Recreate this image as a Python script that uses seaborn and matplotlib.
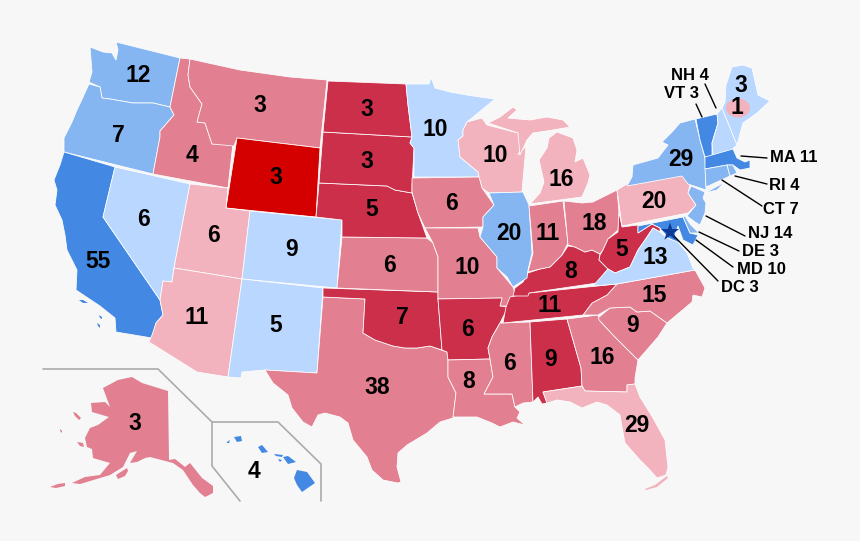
import matplotlib
matplotlib.use("Agg")
import matplotlib.pyplot as plt
from matplotlib.patches import Ellipse
import seaborn as sns
import pandas as pd

# Outlines, in the picture's own coordinates
WA = [(116,42),(180,58),(170,107),(153,103),(133,103),(110,99),(102,98),(100,87),(89,82),(92,72),(90,47),(103,52),(112,53),(116,60),(118,50)]
OR = [(89,84),(100,87),(102,98),(110,99),(133,103),(153,103),(170,107),(174,115),(160,131),(160,137),(153,174),(64,152),(64,138),(72,122),(77,110),(84,95)]
CA = [(64,152),(115,167),(103,217),(160,300),(163,315),(156,323),(152,338),(116,332),(115,318),(100,306),(76,290),(77,270),(67,250),(65,235),(62,220),(55,205),(57,190),(54,180),(60,165)]
NV = [(115,167),(190,184),(174,268),(172,282),(163,281),(160,300),(103,217)]
ID = [(180,58),(190,59),(188,75),(190,87),(202,104),(197,122),(205,123),(212,144),(233,143),(228,188),(153,174),(160,137),(160,131),(174,115),(170,107)]
MT = [(190,59),(240,70),(290,77),(327,80),(320,148),(237,138),(234,146),(212,144),(205,123),(197,122),(202,104),(190,87),(188,75)]
WY = [(237,138),(320,148),(316,217),(226,208)]
UT = [(190,184),(228,188),(226,208),(250,211),(242,279),(174,268)]
CO = [(250,211),(342,220),(337,288),(242,279)]
AZ = [(174,268),(242,279),(228,377),(197,372),(149,342),(152,335),(156,323),(163,315),(160,300),(163,281),(172,282)]
NM = [(242,279),(323,288),(317,373),(265,370),(242,372),(241,378),(228,377)]
TX = [(323,297),(365,299),(363,333),(375,340),(393,346),(405,348),(417,348),(430,346),(447,352),(448,360),(448,377),(456,393),(453,418),(440,422),(427,433),(407,445),(398,453),(397,467),(401,482),(398,483),(383,480),(372,470),(367,457),(353,440),(348,423),(340,417),(325,413),(318,415),(312,427),(303,422),(292,408),(288,395),(273,383),(265,370),(317,373)]
OK = [(323,288),(438,292),(438,299),(442,350),(430,346),(417,348),(405,348),(393,346),(375,340),(363,333),(365,299),(323,297)]
KS = [(342,237),(427,238),(433,243),(438,257),(438,292),(337,288)]
NE = [(319,183),(387,186),(395,190),(412,193),(418,213),(427,238),(342,237),(342,220),(316,217)]
SD = [(323,132),(412,137),(410,143),(414,148),(412,187),(412,193),(395,190),(387,186),(319,183)]
ND = [(328,81),(406,84),(408,105),(412,137),(323,132)]
MN = [(406,84),(429,84),(431,77),(435,88),(450,92),(467,95),(480,97),(495,99),(467,122),(463,130),(463,136),(458,140),(460,157),(478,172),(479,177),(414,177),(414,148),(410,143),(412,137),(408,105)]
WI = [(467,122),(482,118),(487,125),(518,133),(523,145),(518,155),(526,146),(522,192),(489,193),(482,188),(479,177),(478,172),(460,157),(458,140),(463,136),(463,130)]
MI_U = [(488,123),(500,117),(513,107),(517,110),(508,118),(530,120),(547,117),(563,120),(570,127),(553,130),(533,133),(527,140),(520,155),(518,133)]
MI_L = [(557,132),(573,138),(577,150),(575,162),(583,158),(590,175),(588,183),(582,197),(530,204),(540,193),(544,182),(539,160),(547,148),(549,138)]
IA = [(412,178),(479,177),(482,188),(494,205),(483,217),(483,227),(425,228),(418,213),(412,192)]
MO = [(425,228),(478,228),(480,237),(497,257),(497,268),(513,287),(516,296),(508,306),(500,306),(502,298),(438,299),(438,257),(433,243)]
AR = [(438,299),(502,298),(500,306),(508,307),(505,313),(500,323),(492,337),(488,348),(490,359),(448,360),(447,352),(442,350)]
LA = [(448,360),(490,359),(493,377),(484,394),(512,394),(515,407),(520,412),(517,418),(525,425),(513,422),(500,427),(492,423),(477,417),(453,417),(456,393),(448,377)]
MS = [(502,323),(530,322),(533,402),(523,403),(515,407),(512,394),(484,394),(493,377),(490,359),(488,348),(492,337),(500,323)]
AL = [(530,322),(567,319),(581,368),(582,386),(543,392),(547,403),(542,404),(538,397),(533,402)]
GA = [(567,319),(598,315),(600,321),(613,335),(638,360),(635,378),(635,384),(627,385),(627,392),(585,391),(582,386),(581,368)]
SC = [(598,318),(610,308),(630,307),(637,312),(650,311),(667,323),(658,337),(638,360),(613,335),(600,321)]
NC = [(617,284),(695,270),(705,288),(702,297),(693,295),(692,302),(667,323),(650,311),(637,312),(630,307),(610,308),(598,315),(583,315),(592,303),(607,295)]
FL = [(543,392),(582,386),(585,391),(627,392),(627,385),(635,384),(640,397),(653,418),(665,440),(668,467),(666,475),(657,478),(648,468),(640,460),(625,443),(622,427),(620,415),(607,405),(597,402),(582,408),(570,402),(557,400),(547,403)]
FL_KEYS = [(645,489),(655,485),(667,476),(668,478),(657,487),(646,490)]
TN = [(510,297),(529,293),(617,284),(607,295),(592,303),(583,315),(503,323),(506,307)]
KY = [(568,246),(575,247),(585,252),(592,250),(600,254),(599,260),(608,269),(597,283),(529,293),(528,296),(513,296),(515,288),(523,282),(528,273),(540,269),(550,267),(562,255)]
IL = [(489,193),(523,192),(529,205),(532,253),(528,270),(527,278),(513,287),(507,277),(497,268),(497,257),(480,237),(483,227),(483,217),(494,205)]
IN = [(529,206),(563,201),(568,243),(562,255),(550,267),(540,269),(528,272),(533,253)]
OH = [(564,201),(582,203),(593,202),(617,190),(619,212),(618,230),(608,239),(603,250),(600,254),(592,250),(585,252),(575,247),(568,245)]
WV = [(600,255),(603,250),(608,239),(618,232),(619,212),(622,227),(638,225),(638,233),(652,224),(660,228),(660,232),(653,228),(645,240),(638,250),(630,267),(615,273),(608,269),(599,260)]
VA = [(593,286),(608,269),(615,273),(630,267),(638,250),(645,240),(653,228),(660,232),(667,238),(678,242),(687,253),(693,268),(695,270),(617,284)]
PA = [(617,190),(627,184),(685,175),(690,185),(688,193),(696,205),(688,213),(622,226)]
MD = [(638,226),(683,217),(690,233),(698,235),(693,245),(683,240),(678,226),(675,235),(680,243),(668,238),(660,228),(652,224),(638,233)]
DE = [(683,217),(685,216),(690,224),(699,233),(690,233)]
NJ = [(691,186),(705,192),(703,198),(706,203),(705,213),(700,225),(695,222),(687,216),(696,205),(688,193)]
NY = [(627,186),(632,177),(633,165),(658,158),(668,145),(662,142),(672,132),(680,123),(695,119),(700,140),(705,158),(706,190),(688,184),(682,176)]
LI = [(705,193),(725,182),(717,190)]
VT = [(696,119),(717,114),(718,123),(712,143),(712,156),(705,157),(700,140)]
NH = [(717,114),(722,108),(737,145),(728,153),(713,155),(712,143),(718,123)]
ME = [(722,108),(725,102),(726,85),(732,67),(743,65),(752,68),(758,95),(770,101),(757,113),(743,123),(737,145)]
MA = [(705,157),(733,149),(737,158),(745,162),(750,160),(750,168),(740,170),(733,165),(727,165),(705,169)]
CT = [(705,169),(727,165),(730,176),(706,187)]
RI = [(727,165),(733,165),(737,173),(730,176)]
AK = [(103,388),(118,380),(132,377),(142,383),(168,391),(169,460),(175,459),(185,467),(190,463),(202,478),(213,486),(213,493),(205,497),(200,493),(193,485),(183,470),(173,463),(150,457),(145,458),(137,462),(130,463),(137,451),(130,453),(123,467),(110,475),(100,478),(80,484),(72,483),(85,477),(100,475),(110,463),(93,458),(92,449),(87,447),(85,438),(90,428),(98,425),(109,417),(92,412),(91,403),(105,402),(110,407)]
AK_KODIAK = [(116,475),(127,468),(128,471),(125,476),(118,479)]
AK_ALEUT = [(50,487),(58,484),(65,483),(65,486),(56,488)]
AK_NUNIVAK = [(77,442),(83,443),(84,447),(80,446)]
AK_LAWRENCE = [(73,412),(76,413),(81,418),(79,420),(75,416)]
AK_PRIBILOF = [(60,429),(62,431),(62,433),(60,431)]
HI_BIG = [(297,470),(307,472),(315,483),(302,492),(297,485),(294,478)]
HI_MAUI = [(283,457),(288,456),(296,462),(288,464)]
HI_MOLOKAI = [(274,454),(283,455),(282,457),(276,456)]
HI_LANAI = [(278,459),(282,460),(280,462)]
HI_OAHU = [(258,447),(262,445),(268,452),(262,453)]
HI_KAUAI = [(234,437),(241,436),(242,441),(237,442)]
HI_NIIHAU = [(227,442),(230,440),(229,443),(227,443)]
CA_ISLE1 = [(79,300),(83,300),(88,303),(83,303)]
CA_ISLE2 = [(99,315),(102,317),(102,319),(100,318)]
CA_ISLE3 = [(97,323),(100,325),(100,328),(98,326)]

# Rating of each shape: 0 to 2 blue from safest, 3 to 6 red from safest
shape_names = ["WA","OR","CA","NV","ID","MT","WY","UT","CO","AZ","NM","TX","OK","KS","NE","SD","ND","MN","WI","MI_U","MI_L","IA","MO","AR","LA","MS","AL","GA","SC","NC","FL","FL_KEYS","TN","KY","IL","IN","OH","WV","VA","PA","MD","DE","NJ","NY","LI","VT","NH","ME","MA","CT","RI","AK","AK_KODIAK","AK_ALEUT","AK_NUNIVAK","AK_LAWRENCE","AK_PRIBILOF","HI_BIG","HI_MAUI","HI_MOLOKAI","HI_LANAI","HI_OAHU","HI_KAUAI","HI_NIIHAU","CA_ISLE1","CA_ISLE2","CA_ISLE3"]
shape_outlines = [WA,OR,CA,NV,ID,MT,WY,UT,CO,AZ,NM,TX,OK,KS,NE,SD,ND,MN,WI,MI_U,MI_L,IA,MO,AR,LA,MS,AL,GA,SC,NC,FL,FL_KEYS,TN,KY,IL,IN,OH,WV,VA,PA,MD,DE,NJ,NY,LI,VT,NH,ME,MA,CT,RI,AK,AK_KODIAK,AK_ALEUT,AK_NUNIVAK,AK_LAWRENCE,AK_PRIBILOF,HI_BIG,HI_MAUI,HI_MOLOKAI,HI_LANAI,HI_OAHU,HI_KAUAI,HI_NIIHAU,CA_ISLE1,CA_ISLE2,CA_ISLE3]
shape_ratings = [1,1,0,2,5,5,3,6,2,6,2,5,4,5,4,4,4,2,6,6,6,5,5,4,5,5,4,5,5,5,6,6,4,4,1,5,5,4,2,6,0,1,1,1,1,0,2,2,0,1,1,5,5,5,5,5,5,0,0,0,0,0,0,0,0,0,0]
rating_colors = ["#4389E3","#86B6F2","#B9D7FF","#D40000","#CC2F4A","#E27F90","#F2B3BE"]
edgeless = ["FL_KEYS","AK","AK_KODIAK","AK_ALEUT","AK_NUNIVAK","AK_LAWRENCE","AK_PRIBILOF","HI_BIG","HI_MAUI","HI_MOLOKAI","HI_LANAI","HI_OAHU","HI_KAUAI","HI_NIIHAU","CA_ISLE1","CA_ISLE2","CA_ISLE3"]

# Electoral votes on the map
big_votes = ["12","7","55","6","6","3","4","3","9","11","5","38","7","6","5","3","3","10","10","16","6","10","6","8","6","9","16","9","15","29","11","8","20","11","18","5","13","20","29","3","1","3","4"]
big_x = [138,118,98,143,213,260,192,276,292,197,276,377,402,389,372,367,367,435,495,561,452,467,468,469,510,551,602,633,654,637,550,571,509,548,594,622,655,654,681,741,737,135,254]
big_y = [76,135,261,219,236,106,155,178,250,317,326,388,318,266,210,162,109,129,156,179,204,268,330,382,364,359,357,326,296,425,305,272,233,234,223,249,258,201,159,86,108,423,472]

small_labels = ["NH 4","VT 3","MA 11","RI 4","CT 7","NJ 14","DE 3","MD 10","DC 3"]
small_x = [690,681,794,784,781,770,761,761,740]
small_y = [75,94,158,186,209,233,252,269,287]
leader_from = [(705,84),(696,104),(741,156),(735,176),(722,180),(706,216),(699,232),(696,240),(670,232)]
leader_to = [(716,108),(702,117),(767,158),(767,184),(762,206),(745,236),(739,251),(733,267),(718,281)]

inset_a_x = [43,158,212,278,321,321]
inset_a_y = [369,369,422,422,464,501]
inset_b_x = [212,212,240]
inset_b_y = [422,466,501]

dc_x = [670]
dc_y = [232]

BG = "#F7F7F7"
sns.set_theme(style="white", rc={"figure.facecolor": BG, "axes.facecolor": BG})
plt.rcParams["font.family"] = ["Liberation Sans", "DejaVu Sans"]

fig = plt.figure(figsize=(8.6, 5.41), dpi=100)
ax = fig.add_axes([0, 0, 1, 1])
palette = sns.color_palette(rating_colors)

for name, outline, rating in zip(shape_names, shape_outlines, shape_ratings):
    xs, ys = zip(*outline)
    if name in edgeless:
        ax.fill(xs, ys, facecolor=palette[rating], edgecolor="none", zorder=2)
    else:
        ax.fill(xs, ys, facecolor=palette[rating], edgecolor="white", linewidth=0.55, zorder=2)

ax.add_patch(Ellipse((738, 108), 24, 19, facecolor="#F2B3BE", edgecolor="none", zorder=3))

sns.lineplot(x=inset_a_x, y=inset_a_y, sort=False, estimator=None, color="#ABABAB", linewidth=1.2, ax=ax, zorder=1)
sns.lineplot(x=inset_b_x, y=inset_b_y, sort=False, estimator=None, color="#ABABAB", linewidth=1.2, ax=ax, zorder=1)

for a, b in zip(leader_from, leader_to):
    ax.plot([a[0], b[0]], [a[1], b[1]], color="black", linewidth=1.0, zorder=4)

sns.scatterplot(data=pd.DataFrame({"x": dc_x, "y": dc_y}), x="x", y="y", marker="*", s=190,
                color="#0B3A96", edgecolor="none", ax=ax, zorder=5)

for s, x, y in zip(big_votes, big_x, big_y):
    ax.text(x, y, s, fontsize=16.5, fontweight="bold", color="black", ha="center", va="center", zorder=6)
for s, x, y in zip(small_labels, small_x, small_y):
    ax.text(x, y, s, fontsize=12, fontweight="bold", color="black", ha="center", va="center", zorder=6)

ax.set_xlim(0, 860)
ax.set_ylim(541, 0)
ax.set_xlabel("")
ax.set_ylabel("")
ax.axis("off")
fig.savefig("out.png", dpi=100, facecolor=BG)
